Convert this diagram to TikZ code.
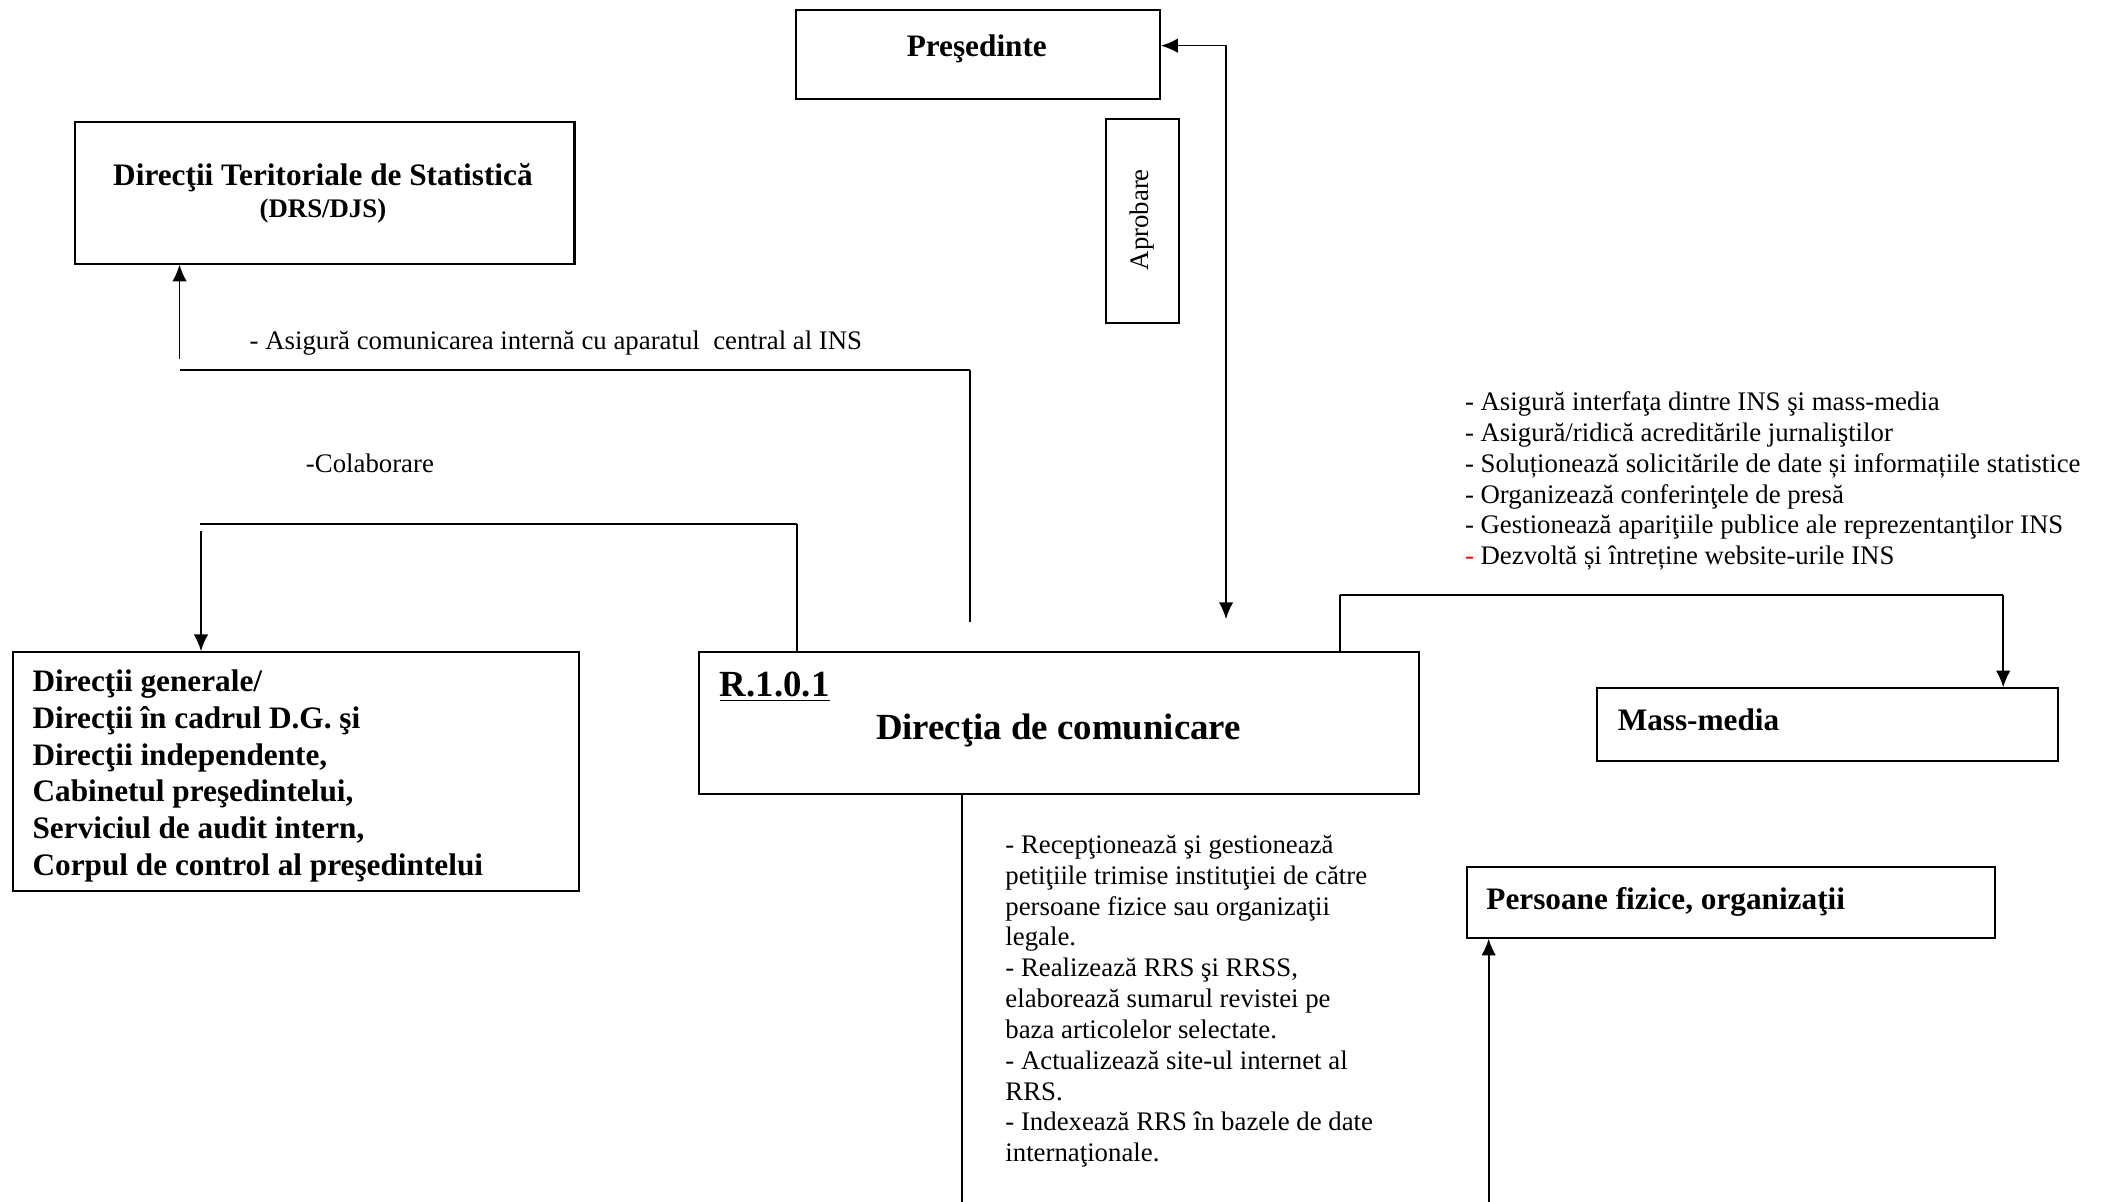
\documentclass[tikz,border=0pt]{standalone}
\usepackage{fontspec}
\setmainfont{Liberation Serif}
\usetikzlibrary{arrows.meta}
\begin{document}
\begin{tikzpicture}[x=0.6pt,y=-0.6pt,
  box/.style={draw,line width=0.9pt,inner sep=0,anchor=north west},
  heavy/.style={line width=1.1pt},
  fine/.style={line width=0.75pt},
  tip/.style={-{Latex[length=7.5pt,width=6.5pt]}},
  bothtips/.style={{Latex[length=7.5pt,width=6.5pt]}-{Latex[length=7.5pt,width=6.5pt]}},
  txt/.style={inner sep=0,font=\fontsize{12}{13.8}\selectfont},
  btxt/.style={inner sep=0,font=\bfseries\fontsize{14}{16.5}\selectfont},
  bigtxt/.style={inner sep=0,font=\bfseries\fontsize{16.5}{19}\selectfont},
]
\useasboundingbox (0,0) rectangle (1568,897);

% boxes
\node[box,minimum width={272*0.6pt},minimum height={66*0.6pt}] (pres) at (593,7) {};
\node[box,minimum width={54*0.6pt},minimum height={152*0.6pt}] (apr) at (825,88) {};
\node[box,minimum width={373*0.6pt},minimum height={106*0.6pt}] (dts) at (55,90) {};
\node[box,minimum width={422*0.6pt},minimum height={178*0.6pt}] (dg) at (9,486) {};
\node[box,minimum width={537*0.6pt},minimum height={106*0.6pt}] (rbox) at (521,486) {};
\node[box,minimum width={344*0.6pt},minimum height={54*0.6pt}] (mm) at (1191,513) {};
\node[box,minimum width={394*0.6pt},minimum height={53*0.6pt}] (pf) at (1094,646) {};

% box texts
\node[btxt,anchor=base] (prest) at (729,42.5) {Preşedinte};
\node[txt,rotate=90] (aprt) at (852,164) {Aprobare};
\node[btxt,anchor=base] (dtst1) at (241,138.5) {Direcţii Teritoriale de Statistică};
\node[inner sep=0,font=\bfseries\fontsize{12}{14}\selectfont,anchor=base] (dtst2) at (241,162) {(DRS/DJS)};
\node[btxt,anchor=north west,align=left] (dgt) at (24,499.5) {Direcţii generale/\\Direcţii în cadrul D.G. şi\\Direcţii independente,\\Cabinetul preşedintelui,\\Serviciul de audit intern,\\Corpul de control al preşedintelui};
\node[bigtxt,anchor=base west] (rcode) at (537,520) {\underline{R.1.0.1}};
\node[bigtxt,anchor=base] (rname) at (790,552) {Direcţia de comunicare};
\node[btxt,anchor=base west] (mmt) at (1207,545.5) {Mass-media};
\node[btxt,anchor=base west] (pft) at (1109,678.5) {Persoane fizice, organizaţii};

% free labels
\node[txt,anchor=base west] (l1) at (186,261) {- Asigură comunicarea internă cu aparatul~ central al INS};
\node[txt,anchor=base west] (l2) at (228,352.5) {-Colaborare};
\node[txt,anchor=north west,align=left] (l3) at (1093,292) {- Asigură interfaţa dintre INS şi mass-media\\- Asigură/ridică acreditările jurnaliştilor\\- Soluționează solicitările de date și informațiile statistice\\- Organizează conferinţele de presă\\- Gestionează apariţiile publice ale reprezentanţilor INS\\\textcolor{red}{-} Dezvoltă și întreține website-urile INS};
\node[txt,anchor=north west,align=left] (l4) at (750,623) {- Recepţionează şi gestionează\\petiţiile trimise instituţiei de către\\persoane fizice sau organizaţii\\legale.\\- Realizează RRS şi RRSS,\\elaborează sumarul revistei pe\\baza articolelor selectate.\\- Actualizează site-ul internet al\\RRS.\\- Indexează RRS în bazele de date\\internaţionale.};

% connector: Presedinte <-> Directia
\coordinate (a1) at (915,462);
\draw[fine,bothtips] ([yshift=4pt]pres.east) -| (a1);

% connector: DTS
\coordinate (b1) at (134,268);
\coordinate (b2) at (134,276);
\coordinate (b3) at (724,276);
\coordinate (b4) at (724,464);
\draw[fine,tip] (b1) -- (b1 |- dts.south);
\draw[heavy] (b2) -- (b3);
\draw[fine] (b3) -- (b4);

% connector: Colaborare
\coordinate (c1) at (149,391);
\coordinate (c2) at (595,391);
\coordinate (c3) at (150,396);
\draw[heavy] (c1) -- (c2);
\draw[fine] (c2) -- (c2 |- rbox.north);
\draw[fine,tip] (c3) -- (c3 |- dg.north);

% connector: Mass-media
\coordinate (d1) at (1000,444);
\coordinate (d2) at (1495,444);
\draw[fine] (rbox.north -| d1) -- (d1);
\draw[heavy] (d1) -- (d2);
\draw[fine,tip] (d2) -- (d2 |- mm.north);

% connector: down from Directia
\coordinate (e1) at (718,897);
\draw[fine] (rbox.south -| e1) -- (e1);

% connector: up to Persoane
\coordinate (f1) at (1111,897);
\draw[fine,tip] (f1) -- (f1 |- pf.south);
\end{tikzpicture}
\end{document}
